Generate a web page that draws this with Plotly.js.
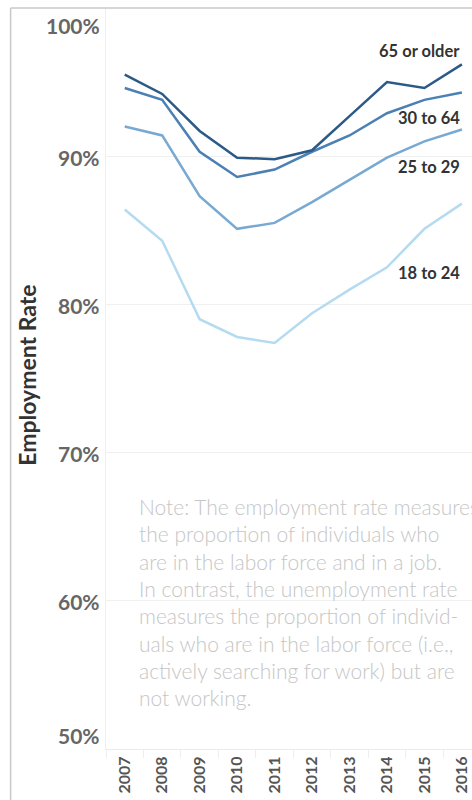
<!DOCTYPE html>
<html>
<head>
<meta charset="utf-8">
<script src="https://cdn.plot.ly/plotly-3.0.1.min.js"></script>
<style>
  html, body { margin: 0; padding: 0; background: #fff; overflow: hidden; }
  #chart { width: 472px; height: 800px; }
</style>
</head>
<body>
<div id="chart"></div>
<script>
// Employment rate by age group, 2007-2016
const years = [2007, 2008, 2009, 2010, 2011, 2012, 2013, 2014, 2015, 2016];
const age65plus  = [95.5, 94.2, 91.7, 89.9, 89.8, 90.4, 92.7, 95.0, 94.6, 96.2];
const age30to64  = [94.6, 93.8, 90.3, 88.6, 89.1, 90.3, 91.4, 92.9, 93.8, 94.3];
const age25to29  = [92.0, 91.4, 87.3, 85.1, 85.5, 86.9, 88.4, 89.9, 91.0, 91.8];
const age18to24  = [86.4, 84.3, 79.0, 77.8, 77.4, 79.4, 81.0, 82.5, 85.1, 86.8];

const seriesNames = ['65 or older', '30 to 64', '25 to 29', '18 to 24'];
const yTickVals = [50, 60, 70, 80, 90, 100];
const yTickText = ['50%', '60%', '70%', '80%', '90%', '100%'];

const noteLines = [
  'Note: The employment rate measures',
  'the proportion of individuals who',
  'are in the labor force and in a job.',
  'In contrast, the unemployment rate',
  'measures the proportion of individ-',
  'uals who are in the labor force (i.e.,',
  'actively searching for work) but are',
  'not working.'
];

const seriesValues = [age65plus, age30to64, age25to29, age18to24];
const colors = ['#2b5a88', '#4b80b4', '#77a9d2', '#b5dbf0'];
// vertical offset (px) of each end label from the series' last point
const labelShift = [13, -26, -37, -69];

const FONT = 'Lato, "Open Sans", sans-serif';

const traces = seriesValues.map((vals, i) => ({
  type: 'scatter',
  mode: 'lines',
  name: seriesNames[i],
  x: years,
  y: vals,
  line: { color: colors[i], width: 2.5 },
  hoverinfo: 'skip'
})).reverse();

const annotations = [];

// end-of-line series labels
seriesValues.forEach((vals, i) => {
  annotations.push({
    xref: 'x', yref: 'y',
    x: years[years.length - 1], y: vals[vals.length - 1],
    text: seriesNames[i],
    showarrow: false,
    xanchor: 'right', yanchor: 'middle',
    xshift: 0, yshift: labelShift[i],
    font: { family: FONT, size: 16.5, color: '#333', weight: 'bold' }
  });
});

// y tick labels (outer ones kept inside the frame)
yTickVals.forEach((v, i) => {
  let shift = 0;
  if (v === 100) shift = -17;
  else if (v === 50) shift = 14;
  else shift = -1;
  annotations.push({
    xref: 'paper', yref: 'y',
    x: 0, y: v,
    text: yTickText[i],
    showarrow: false,
    xanchor: 'right', yanchor: 'middle',
    xshift: -4, yshift: shift,
    font: { family: FONT, size: 21, color: '#666', weight: 'bold' }
  });
});

// axis title
annotations.push({
  xref: 'paper', yref: 'paper',
  x: -0.216, y: 0.505,
  text: 'Employment Rate',
  textangle: -90,
  showarrow: false,
  xanchor: 'center', yanchor: 'middle',
  font: { family: FONT, size: 23, color: '#333', weight: 'bold' }
});

// explanatory note
annotations.push({
  xref: 'paper', yref: 'paper',
  x: 0.086, y: 0.347,
  text: noteLines.join('<br>'),
  showarrow: false,
  align: 'left',
  xanchor: 'left', yanchor: 'top',
  font: { family: FONT, size: 21, color: '#c6c6c6', weight: 300 }
});

const layout = {
  width: 472,
  height: 800,
  margin: { l: 105.5, r: 0, t: 7.7, b: 50.8, pad: 0 },
  paper_bgcolor: '#fff',
  plot_bgcolor: '#fff',
  showlegend: false,
  xaxis: {
    range: [2006.5, 2016.27],
    tickmode: 'array',
    tickvals: years,
    ticktext: years.map(String),
    tickangle: -90,
    ticks: '',
    tickfont: { family: FONT, size: 16, color: '#555', weight: 'bold' },
    showgrid: false,
    zeroline: false,
    showline: true,
    linecolor: '#ececec',
    linewidth: 1,
    minor: { tick0: 2006.5, dtick: 1, ticks: 'outside', ticklen: 8, tickcolor: '#eeeeee', tickwidth: 1, showgrid: false },
    fixedrange: true
  },
  yaxis: {
    range: [50, 100],
    tickmode: 'array',
    tickvals: yTickVals,
    showticklabels: false,
    ticks: '',
    showgrid: true,
    gridcolor: '#f0f0f0',
    gridwidth: 1,
    zeroline: false,
    showline: true,
    linecolor: '#efefef',
    linewidth: 1,
    fixedrange: true
  },
  shapes: [
    // outer frame: top and left rules
    { type: 'line', xref: 'paper', yref: 'paper', x0: -0.2606, x1: 1.01, y0: 1, y1: 1,
      line: { color: '#c8c8c8', width: 1.5 } },
    { type: 'line', xref: 'paper', yref: 'paper', x0: -0.2606, x1: -0.2606, y0: 1, y1: -0.08,
      line: { color: '#c8c8c8', width: 1.5 } }
  ],
  annotations: annotations
};

Plotly.newPlot('chart', traces, layout, { displayModeBar: false, staticPlot: true });
</script>
</body>
</html>
